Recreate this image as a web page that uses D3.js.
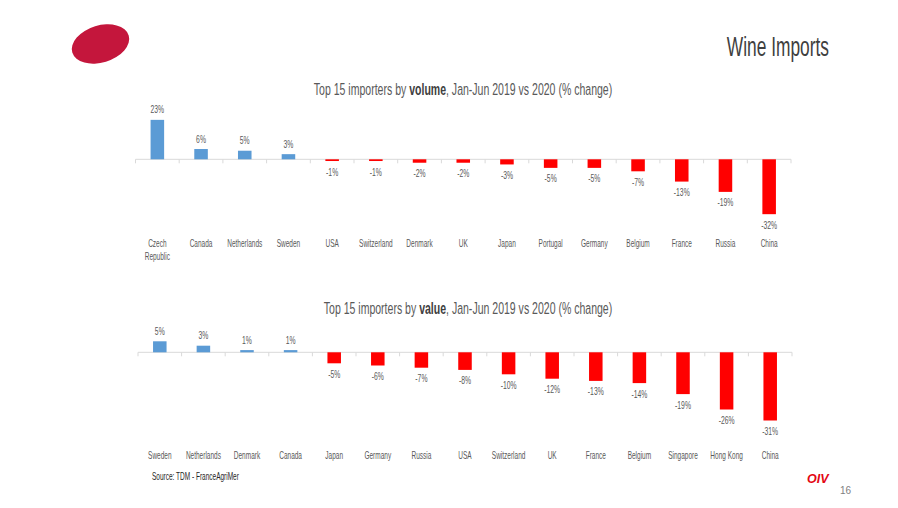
<!DOCTYPE html>
<html>
<head>
<meta charset="utf-8">
<script src="https://cdn.jsdelivr.net/npm/d3@7"></script>
<style>
  body { margin: 0; background: #fff; }
  svg { display: block; }
  text { font-family: "Liberation Sans", Arial, sans-serif; fill: #595959; }
</style>
</head>
<body>
<div id="slide"></div>
<script>
var svgWidth = 898;
var svgHeight = 508;

// Data
var volCategories = ["Czech Republic", "Canada", "Netherlands", "Sweden", "USA", "Switzerland", "Denmark", "UK",
  "Japan", "Portugal", "Germany", "Belgium", "France", "Russia", "China"];
var volValues = [23, 6, 5, 3, -1, -1, -2, -2, -3, -5, -5, -7, -13, -19, -32];

var valCategories = ["Sweden", "Netherlands", "Denmark", "Canada", "Japan", "Germany", "Russia", "USA",
  "Switzerland", "UK", "France", "Belgium", "Singapore", "Hong Kong", "China"];
var valValues = [5, 3, 1, 1, -5, -6, -7, -8, -10, -12, -13, -14, -19, -26, -31];

var posColor = "#5b9bd5";
var negColor = "#ff0000";

// the slide uses a very narrow font, so squeeze a normal one horizontally
var squeeze = 0.62;

var svg = d3.select("#slide")
  .append("svg")
  .attr("width", svgWidth)
  .attr("height", svgHeight);

function narrowText(parent, x, y) {
  return parent.append("text")
    .attr("transform", "translate(" + x + "," + y + ") scale(" + squeeze + ",1)");
}

// Logo blob top left
svg.append("ellipse")
  .attr("cx", 100.5)
  .attr("cy", 44)
  .attr("rx", 29.5)
  .attr("ry", 18.5)
  .attr("transform", "rotate(-17, 100.5, 44)")
  .attr("fill", "#c4163c");

// Slide title
narrowText(svg, 829, 56)
  .attr("text-anchor", "end")
  .style("font-size", "28px")
  .style("fill", "#3f3f3f")
  .text("Wine Imports");

function drawChart(opts) {
  var cats = opts.categories;
  var vals = opts.values;
  var data = cats.map(function(c, i) { return { name: c, value: vals[i] }; });

  var x = d3.scaleBand()
    .domain(cats)
    .range(opts.xRange)
    .paddingInner(0.69)
    .paddingOuter(0.345);

  var y = d3.scaleLinear()
    .domain([0, 10])
    .range([opts.zeroY, opts.zeroY - 10 * opts.pxPerPct]);

  var g = svg.append("g");

  // Title with the bold keyword
  var title = narrowText(g, opts.titleX, opts.titleY)
    .attr("text-anchor", "middle")
    .style("font-size", "17px");
  title.append("tspan").text("Top 15 importers by ");
  title.append("tspan").style("font-weight", "bold").style("fill", "#404040").text(opts.keyword);
  title.append("tspan").text(", Jan-Jun 2019 vs 2020 (% change)");

  // Zero line with small tick marks between categories
  g.append("line")
    .attr("x1", opts.xRange[0])
    .attr("x2", opts.xRange[1])
    .attr("y1", y(0))
    .attr("y2", y(0))
    .attr("stroke", "#d9d9d9")
    .attr("stroke-width", 1);

  g.selectAll(".sep")
    .data(d3.range(cats.length + 1))
    .enter()
    .append("line")
    .attr("x1", function(i) { return opts.xRange[0] + i * x.step(); })
    .attr("x2", function(i) { return opts.xRange[0] + i * x.step(); })
    .attr("y1", y(0))
    .attr("y2", y(0) + 4)
    .attr("stroke", "#d9d9d9");

  // Bars
  g.selectAll(".bar")
    .data(data)
    .enter()
    .append("rect")
    .attr("x", function(d) { return x(d.name); })
    .attr("width", x.bandwidth())
    .attr("y", function(d) { return Math.min(y(d.value), y(0)); })
    .attr("height", function(d) { return Math.abs(y(d.value) - y(0)); })
    .attr("fill", function(d) { return d.value >= 0 ? posColor : negColor; });

  // Value labels
  data.forEach(function(d) {
    var ly = d.value >= 0 ? y(d.value) - 6.5 : y(d.value) + 14.5;
    narrowText(g, x(d.name) + x.bandwidth() / 2, ly)
      .attr("text-anchor", "middle")
      .style("font-size", "11px")
      .text(d.value + "%");
  });

  // Category labels, sitting low under the plot
  var axis = d3.axisBottom(x).tickSize(0).tickPadding(0);
  var axisG = g.append("g")
    .attr("transform", "translate(0," + opts.labelY + ")")
    .call(axis);
  axisG.select(".domain").remove();
  axisG.selectAll("text")
    .style("font-size", "10.5px")
    .attr("font-family", null)
    .attr("font-size", null)
    .attr("fill", null)
    .attr("dy", "0.71em")
    .attr("transform", "scale(" + squeeze + ",1)")
    .each(function(d) {
      var t = d3.select(this);
      if (this.getComputedTextLength() * squeeze > x.step() - 2) {
        var words = d.split(" ");
        t.text(null);
        words.forEach(function(w, i) {
          t.append("tspan")
            .attr("x", 0)
            .attr("dy", i === 0 ? "0.71em" : "1.2em")
            .text(w);
        });
      }
    });
}

drawChart({
  categories: volCategories,
  values: volValues,
  keyword: "volume",
  titleX: 463,
  titleY: 95,
  xRange: [135.5, 791],
  zeroY: 159.3,
  pxPerPct: 1.715,
  labelY: 239.5
});

drawChart({
  categories: valCategories,
  values: valValues,
  keyword: "value",
  titleX: 468,
  titleY: 314,
  xRange: [138, 792],
  zeroY: 352.3,
  pxPerPct: 2.2,
  labelY: 452
});

// Footer
narrowText(svg, 152, 480)
  .style("font-size", "10.5px")
  .style("fill", "#262626")
  .text("Source: TDM - FranceAgriMer");

svg.append("text")
  .attr("x", 807)
  .attr("y", 483)
  .style("font-size", "12.5px")
  .style("font-weight", "bold")
  .style("font-style", "italic")
  .style("fill", "#e30613")
  .text("OIV");

svg.append("text")
  .attr("x", 840)
  .attr("y", 494)
  .style("font-size", "10px")
  .style("fill", "#7f7f7f")
  .text("16");
</script>
</body>
</html>
